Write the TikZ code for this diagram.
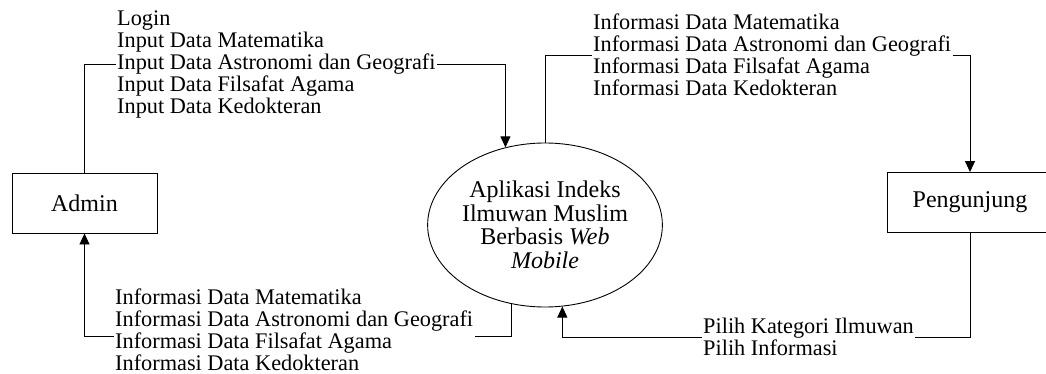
\documentclass[tikz,border=0pt]{standalone}
\usepackage{fontspec}
\setmainfont{Liberation Serif}
\usetikzlibrary{shapes.geometric,arrows.meta}
\begin{document}
\begin{tikzpicture}[x=1pt,y=-1pt,
  line/.style={draw=black,line width=0.9pt},
  flow/.style={line,-{Triangle[length=11pt,width=10pt]}},
  entity/.style={draw=black,line width=0.9pt,minimum height=60pt,inner sep=0pt,
    font=\fontsize{24}{23.5}\selectfont},
  process/.style={ellipse,draw=black,line width=0.9pt,minimum width=206pt,
    minimum height=164pt,inner sep=0pt,align=center,font=\fontsize{24}{23.5}\selectfont},
  flowlabel/.style={anchor=west,align=left,inner xsep=1.5pt,inner ysep=0pt,
    font=\fontsize{22.3}{22}\selectfont}]
\useasboundingbox (0,0) rectangle (1046,374);
\clip (0,0) rectangle (1046,374);

% external entities and the process
\node[entity,minimum width=145pt] (admin) at (84.5,203) {Admin};
\node[entity,minimum width=166pt] (peng) at (970,202.5) {Pengunjung};
\node[process] (proc) at (545,225)
  {Aplikasi Indeks\\Ilmuwan Muslim\\Berbasis \textit{Web}\\\textit{Mobile}};

% data flow labels
\node[flowlabel] (in) at (115.5,64.5)
  {Login\\Input Data Matematika\\Input Data Astronomi dan Geografi\\Input Data Filsafat Agama\\Input Data Kedokteran};
\node[flowlabel] (outv) at (591.5,55)
  {Informasi Data Matematika\\Informasi Data Astronomi dan Geografi\\Informasi Data Filsafat Agama\\Informasi Data Kedokteran};
\node[flowlabel] (outa) at (113.5,329.5)
  {Informasi Data Matematika\\Informasi Data Astronomi dan Geografi\\Informasi Data Filsafat Agama\\Informasi Data Kedokteran};
\node[flowlabel] (sel) at (701.5,337)
  {Pilih Kategori Ilmuwan\\Pilih Informasi};

% data flows
\draw[line] (admin.north) |- (in.west);
\draw[flow] (in.east) -| (proc.117);
\draw[line] (proc.north) |- (outv.west);
\draw[flow] (outv.east) -| (peng.north);
\draw[line] (proc.247) |- ([yshift=-7pt]outa.east);
\draw[flow] ([yshift=-7pt]outa.west) -| (admin.south);
\draw[line] (peng.south) |- (sel.east);
\draw[flow] (sel.west) -| (proc.282);
\end{tikzpicture}
\end{document}
